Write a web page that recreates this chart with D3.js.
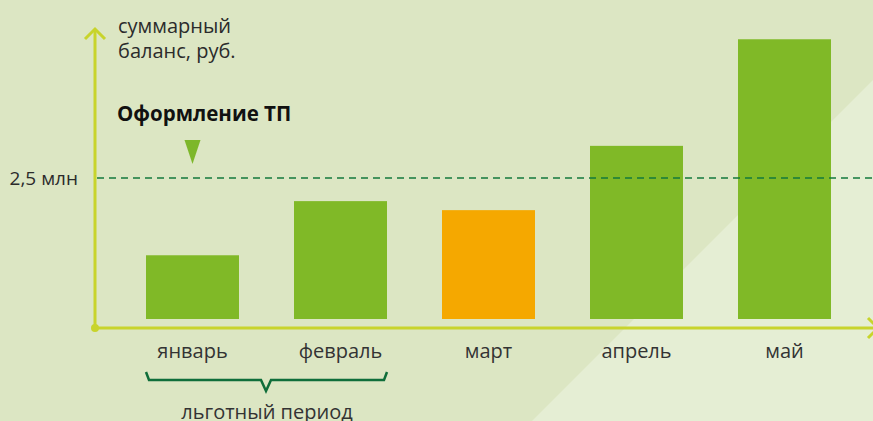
<!DOCTYPE html>
<html><head><meta charset="utf-8">
<script src="https://cdn.jsdelivr.net/npm/d3@7"></script>
<style>html,body{margin:0;padding:0;overflow:hidden;background:#dce6c3}</style>
</head><body>
<svg id="c" width="873" height="421"></svg>
<script>
const months = ["январь","февраль","март","апрель","май"];
const values = [1.13, 2.09, 1.93, 3.07, 4.96]; // млн руб.
const highlight = ["март"];
const refValue = 2.5;
const refLabel = "2,5 млн";
const yTitle = ["суммарный","баланс, руб."];
const eventLabel = "Оформление ТП";
const eventMonth = "январь";
const periodMonths = ["январь","февраль"];
const periodLabel = "льготный период";

const W = 873, H = 421;
const svg = d3.select("#c");
const font = "'Open Sans', 'Noto Sans', sans-serif";

// background
svg.append("rect").attr("width",W).attr("height",H).attr("fill","#dce6c3");
svg.append("polygon").attr("points","873,80 873,421 532,421").attr("fill","#e5eed4");

const x = d3.scalePoint().domain(months).range([192.5, 784.5]);
const bw = 93;
const y = d3.scaleLinear().domain([0,5]).range([319,37]);
const axisY = 328, axisX = 95;

// bars
svg.selectAll("rect.bar").data(months).join("rect")
  .attr("class","bar")
  .attr("x", d => x(d) - bw/2)
  .attr("width", bw)
  .attr("y", (d,i) => y(values[i]))
  .attr("height", (d,i) => y(0) - y(values[i]))
  .attr("fill", d => highlight.includes(d) ? "#f5a800" : "#80b927");

// axes
const axCol = "#c8d42c";
svg.append("line").attr("x1",axisX).attr("x2",axisX).attr("y1",29).attr("y2",axisY)
  .attr("stroke",axCol).attr("stroke-width",3);
svg.append("line").attr("x1",axisX).attr("x2",873).attr("y1",axisY).attr("y2",axisY)
  .attr("stroke",axCol).attr("stroke-width",3);
svg.append("polyline").attr("points",`${axisX-10},39 ${axisX},29 ${axisX+10},39`)
  .attr("fill","none").attr("stroke",axCol).attr("stroke-width",3);
svg.append("polyline").attr("points",`868,318 878,328 868,338`)
  .attr("fill","none").attr("stroke",axCol).attr("stroke-width",3);
svg.append("circle").attr("cx",axisX).attr("cy",axisY).attr("r",4).attr("fill",axCol);

// reference dashed line
svg.append("line").attr("x1",axisX+2).attr("x2",873).attr("y1",y(refValue)).attr("y2",y(refValue))
  .attr("stroke","#137a3c").attr("stroke-width",1.5).attr("stroke-dasharray","7,5");
svg.append("text").attr("x",78).attr("y",y(refValue)+7).attr("text-anchor","end")
  .attr("font-family",font).attr("font-size",19).attr("fill","#2b2b2b").text(refLabel);

// x labels
svg.selectAll("text.xl").data(months).join("text").attr("class","xl")
  .attr("x", d => x(d)).attr("y", 358).attr("text-anchor","middle")
  .attr("font-family",font).attr("font-size",20).attr("fill","#333").text(d => d);

// y title
svg.selectAll("text.yt").data(yTitle).join("text").attr("class","yt")
  .attr("x",118).attr("y",(d,i)=>33+i*25)
  .attr("font-family",font).attr("font-size",20).attr("fill","#2b2b2b").text(d=>d);

// event
const ex = x(eventMonth);
svg.append("text").attr("x",117).attr("y",121).attr("font-family",font)
  .attr("font-size",20.5).attr("font-weight","bold").attr("fill","#111").text(eventLabel);
svg.append("polygon").attr("points",`${ex-8},140 ${ex+8},140 ${ex},164`).attr("fill","#7db72a");

// brace
const bx1 = x(periodMonths[0]) - bw/2, bx2 = x(periodMonths[periodMonths.length-1]) + bw/2;
const mid = 266;
svg.append("path")
  .attr("d",`M${bx1},372 L${bx1+3},380 L${mid-5},380 L${mid},391 L${mid+5},380 L${bx2-3},380 L${bx2},372`)
  .attr("fill","none").attr("stroke","#0f6e3a").attr("stroke-width",2.5);
svg.append("text").attr("x",mid+1).attr("y",419).attr("text-anchor","middle")
  .attr("font-family",font).attr("font-size",20).attr("fill","#333").text(periodLabel);
</script>
</body></html>
